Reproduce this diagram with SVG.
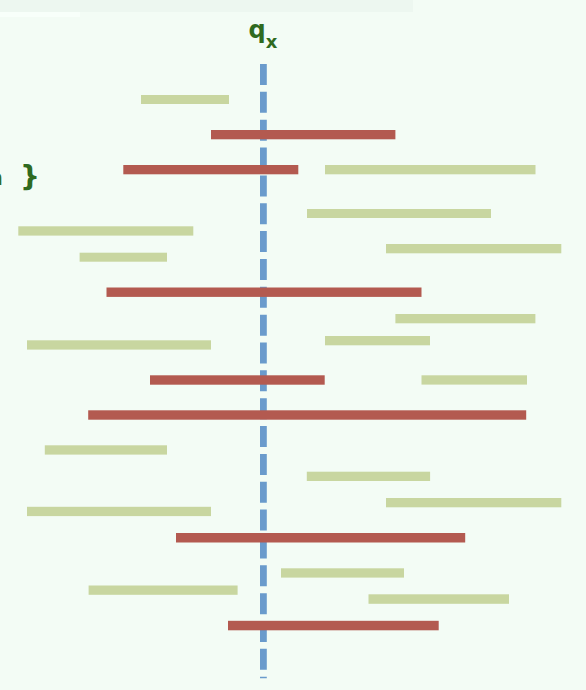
<svg xmlns="http://www.w3.org/2000/svg" width="586" height="690" viewBox="0 0 586 690">
<style>
.g{fill:#c8d6a0}
.r{fill:#b35a50}
.lbl{font-family:"DejaVu Sans","Liberation Sans",sans-serif;font-weight:bold;fill:#2f6a1f}
</style>
<rect x="0" y="0" width="586" height="690" fill="#f3fcf5"/>
<rect x="0" y="0" width="413" height="12" fill="#edf7f0"/>
<rect x="0" y="12" width="80" height="5" fill="#f8fffa"/>
<g id="label-qx"><text class="lbl" x="248.6" y="38.4" font-size="24">q<tspan font-size="18" dy="9.3">x</tspan></text></g>
<g id="label-set"><text class="lbl" x="3" y="185" font-size="22" text-anchor="end">n</text><text class="lbl" x="20" y="186" font-size="28">}</text></g>
<g id="intervals-green">
<rect id="g1" class="g" x="141" y="95" width="88" height="9"/>
<rect id="g2" class="g" x="325" y="165" width="210.5" height="9.3"/>
<rect id="g3" class="g" x="307" y="209" width="184" height="9"/>
<rect id="g4" class="g" x="18.3" y="226.3" width="175" height="9.3"/>
<rect id="g6" class="g" x="386" y="244" width="175.3" height="9.3"/>
<rect id="g5" class="g" x="79.6" y="252.7" width="87.4" height="9"/>
<rect id="g7" class="g" x="395.4" y="314" width="140" height="9.3"/>
<rect id="g9" class="g" x="325" y="336" width="105" height="9.3"/>
<rect id="g8" class="g" x="27" y="340.3" width="184" height="9.3"/>
<rect id="g10" class="g" x="421.5" y="375.3" width="105.5" height="9.3"/>
<rect id="g11" class="g" x="44.8" y="445.3" width="122.2" height="9.3"/>
<rect id="g12" class="g" x="306.8" y="471.7" width="123.3" height="9.3"/>
<rect id="g13" class="g" x="386" y="498" width="175.3" height="9.3"/>
<rect id="g14" class="g" x="27" y="506.8" width="184" height="9.3"/>
<rect id="g15" class="g" x="281" y="568.3" width="123" height="9.3"/>
<rect id="g16" class="g" x="88.6" y="585.5" width="149" height="9.3"/>
<rect id="g17" class="g" x="368.5" y="594.3" width="140.5" height="9.5"/>
</g>
<g id="connectors">
<line id="query-line" x1="263.4" y1="64" x2="263.4" y2="678.3" stroke="#6a9bcc" stroke-width="6.8" stroke-dasharray="21 6.85"/>
</g>
<g id="intervals-red">
<rect id="r1" class="r" x="211" y="130" width="184.4" height="9.3"/>
<rect id="r2" class="r" x="123.3" y="165" width="175" height="9.3"/>
<rect id="r3" class="r" x="106.5" y="287.5" width="315" height="9.4"/>
<rect id="r4" class="r" x="150" y="375.3" width="174.7" height="9.4"/>
<rect id="r5" class="r" x="88.2" y="410.3" width="438" height="9.4"/>
<rect id="r6" class="r" x="176" y="533" width="289.2" height="9.5"/>
<rect id="r7" class="r" x="228" y="620.8" width="210.7" height="9.5"/>
</g>
</svg>
